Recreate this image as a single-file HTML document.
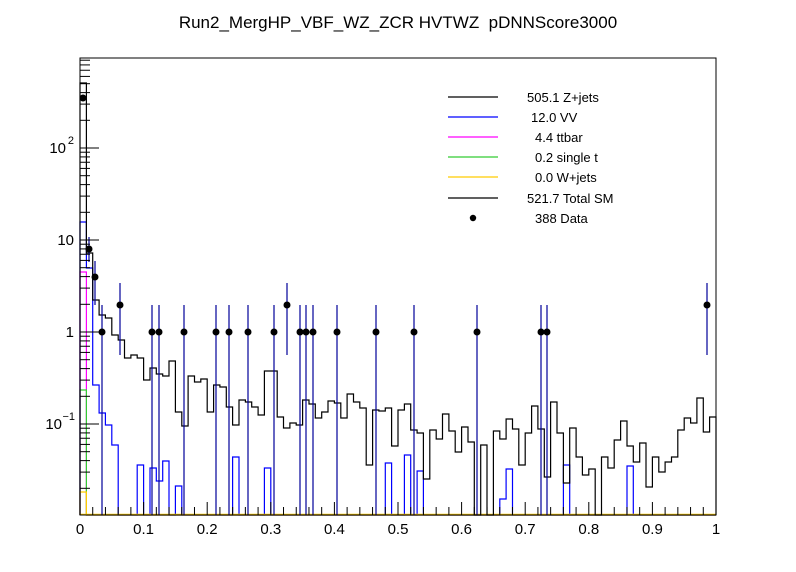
<!DOCTYPE html>
<html><head><meta charset="utf-8"><style>
html,body{margin:0;padding:0;background:#fff;}
svg{display:block;font-family:"Liberation Sans",sans-serif;}
</style></head><body>
<svg id="s" width="796" height="572" viewBox="0 0 796 572" xmlns="http://www.w3.org/2000/svg">
<rect width="796" height="572" fill="#fff"/>
<text x="398" y="28" font-size="17" text-anchor="middle">Run2_MergHP_VBF_WZ_ZCR HVTWZ&#160; pDNNScore3000</text>
<g id="hist"></g>
<rect x="80" y="58" width="636" height="457" fill="none" stroke="#000" stroke-width="1"/>
<g id="ticks" stroke="#000" stroke-width="1"></g>
<g font-size="15" text-anchor="middle">
<text x="80" y="534">0</text><text x="143.6" y="534">0.1</text><text x="207.2" y="534">0.2</text><text x="270.8" y="534">0.3</text><text x="334.4" y="534">0.4</text><text x="398" y="534">0.5</text><text x="461.6" y="534">0.6</text><text x="525.2" y="534">0.7</text><text x="588.8" y="534">0.8</text><text x="652.4" y="534">0.9</text><text x="716" y="534">1</text>
</g>
<g font-size="15" text-anchor="end">
<text x="74" y="337">1</text>
<text x="74" y="245">10</text>
<text x="66" y="153">10</text><text x="74" y="144" font-size="11">2</text>
<text x="62" y="429">10</text><text x="75" y="420" font-size="11">−1</text>
</g>
<g stroke-width="1.2">
<line x1="448" y1="97" x2="498" y2="97" stroke="#000"/>
<line x1="448" y1="117" x2="498" y2="117" stroke="#0000ff"/>
<line x1="448" y1="137" x2="498" y2="137" stroke="#ff00ff"/>
<line x1="448" y1="157" x2="498" y2="157" stroke="#33cc33"/>
<line x1="448" y1="177" x2="498" y2="177" stroke="#ffcc00"/>
<line x1="448" y1="198" x2="498" y2="198" stroke="#000"/>
</g>
<circle cx="473" cy="218" r="3.2" fill="#000"/>
<g font-size="13">
<text x="527" y="102">505.1 Z+jets</text>
<text x="531" y="122">12.0 VV</text>
<text x="535" y="142">4.4 ttbar</text>
<text x="535" y="162">0.2 single t</text>
<text x="535" y="182">0.0 W+jets</text>
<text x="527" y="203">521.7 Total SM</text>
<text x="535" y="223">388 Data</text>
</g>
</svg>
<script>
var NS="http://www.w3.org/2000/svg";
function el(p,t,a){var e=document.createElementNS(NS,t);for(var k in a)e.setAttribute(k,a[k]);p.appendChild(e);return e;}
var g=document.getElementById('hist'),tk=document.getElementById('ticks');
var B=515,W=6.36;
function X(i){return 80+W*i;}
var blk=[83,253,300,315,318,335,340,358,355,358,380,368,374,376,361,412,426,376,382,379,412,385,387,407,425,400,402,407,415,371,
371,417,428,423,425,400,404,418,412,401,403,418,394,402,408,465,410,411,408,446,410,404,430,433,479,430,439,414,431,452,427,442,0,445,0,
431,439,419,429,465,433,406,429,477,402,433,483,428,457,475,469,0,457,468,440,421,446,462,443,487,457,472,462,457,430,418,423,398,432,417];
var blue=new Array(100).fill(0);
var bv={0:222,1:268,2:385,3:413,4:425,5:445,9:465,11:468,12:481,13:461,15:486,24:457,29:468,48:463,51:455,53:471,66:499,67:469,76:465,86:466};
for(var k in bv)blue[k]=bv[k];
function hp(arr,col){var d="M80 "+B;for(var i=0;i<100;i++){var y=arr[i]||B;d+=" L"+X(i).toFixed(1)+" "+y+" L"+X(i+1).toFixed(1)+" "+y;}d+=" L716 "+B;el(g,'path',{d:d,fill:'none',stroke:col,'stroke-width':1.2});}
hp(blue,'#0000ff');
var mag=new Array(100).fill(0);mag[0]=272;hp(mag,'#ff00ff');
var grn=new Array(100).fill(0);grn[0]=390;hp(grn,'#33cc33');
var org=new Array(100).fill(0);org[0]=492;hp(org,'#ffcc00');
el(g,'line',{x1:80,y1:514.5,x2:716,y2:514.5,stroke:'#ffcc00','stroke-width':1.5});
hp(blk,'#000');
var one=[102,152,159,184,216,229,248,274,300,306,313,337,376,414,477,541,547];
one.forEach(function(x){el(g,'line',{x1:x,y1:305,x2:x,y2:515,stroke:'#000099','stroke-width':1.2});el(g,'circle',{cx:x,cy:332,r:3.5,fill:'#000'});});
[120,287,707].forEach(function(x){el(g,'line',{x1:x,y1:283,x2:x,y2:355,stroke:'#000099','stroke-width':1.2});el(g,'circle',{cx:x,cy:305,r:3.5,fill:'#000'});});
el(g,'line',{x1:89,y1:237,x2:89,y2:262,stroke:'#000099','stroke-width':1.2});el(g,'circle',{cx:89,cy:249,r:3.5,fill:'#000'});
el(g,'line',{x1:95,y1:261,x2:95,y2:305,stroke:'#000099','stroke-width':1.2});el(g,'circle',{cx:95,cy:277,r:3.5,fill:'#000'});
el(g,'circle',{cx:83,cy:98,r:3.5,fill:'#000'});
for(var i=0;i<=50;i++){var x=80+12.72*i;var L=(i%5==0)?13:8;el(tk,'line',{x1:x,y1:515,x2:x,y2:515-L});}
for(var d=-2;d<=2;d++){for(var m=1;m<=9;m++){var v=Math.log10(m)+d;var y=332-92*v;if(y<58||y>515)continue;var L=(m==1)?19:10;el(tk,'line',{x1:80,y1:y,x2:80+L,y2:y});}}
</script>
</body></html>
